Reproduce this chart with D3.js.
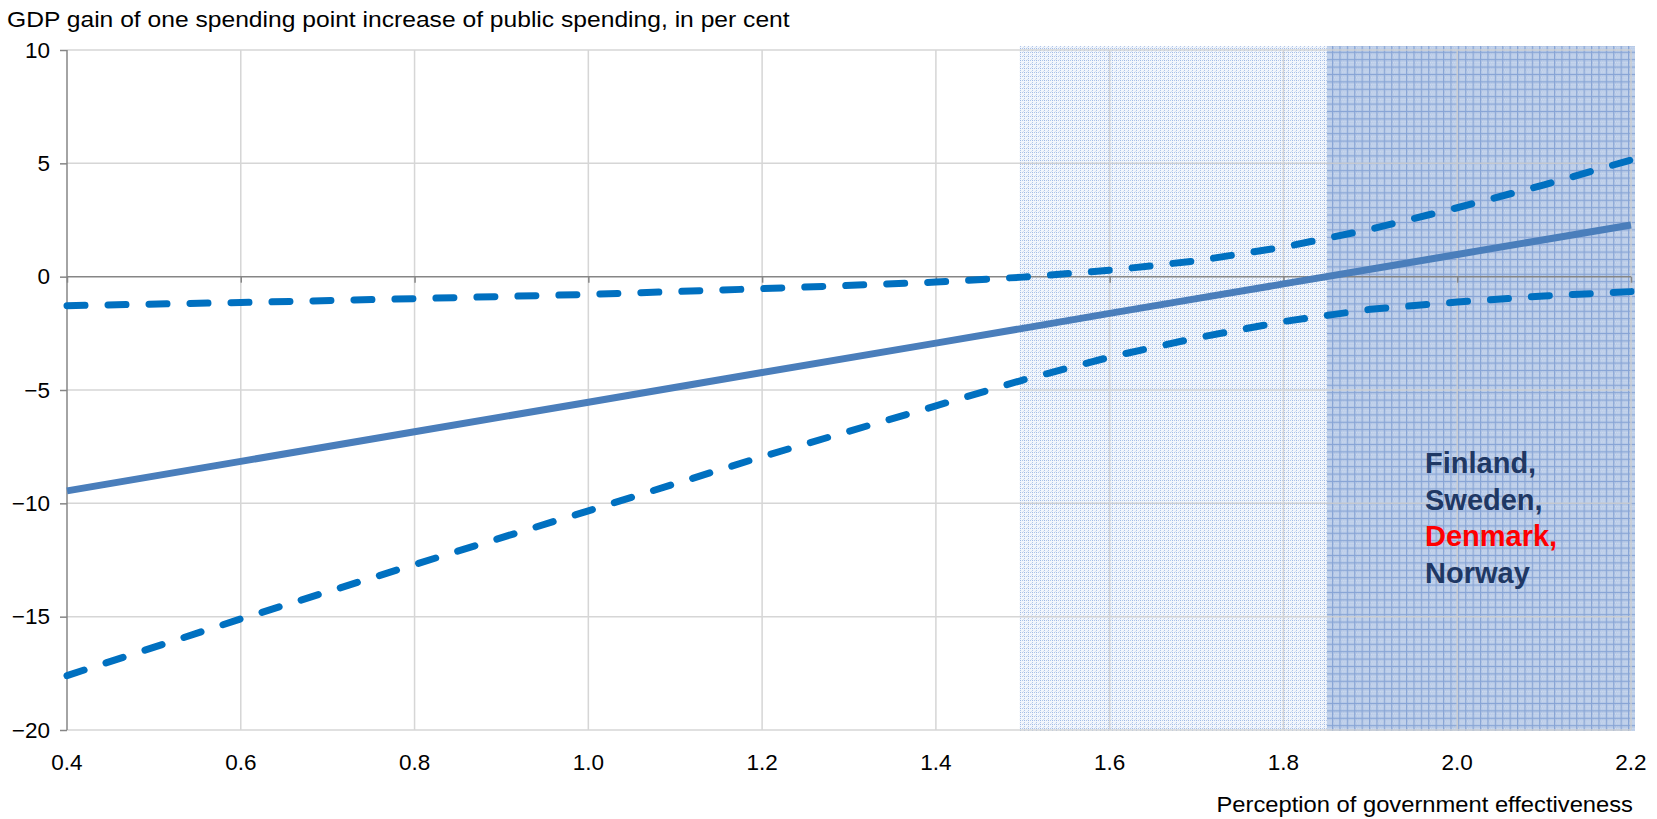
<!DOCTYPE html>
<html>
<head>
<meta charset="utf-8">
<script src="https://cdn.jsdelivr.net/npm/d3@7"></script>
<style>
  html, body { margin: 0; padding: 0; background: #ffffff; }
  svg { display: block; font-family: "Liberation Sans", Arial, sans-serif; }
</style>
</head>
<body>
<svg id="chart" width="1657" height="819"></svg>
<script>
// Government effectiveness (x) and estimated GDP gain (y)
const effectiveness = [0.4, 0.6, 0.8, 1.0, 1.2, 1.4, 1.5, 1.6, 1.7, 1.8, 1.9, 2.0, 2.1, 2.2];
const estimate      = [-9.45, -8.15, -6.84, -5.54, -4.23, -2.93, -2.28, -1.62, -0.97, -0.32, 0.33, 0.98, 1.63, 2.28];
const upperBound    = [-1.28, -1.14, -0.97, -0.78, -0.53, -0.24, -0.02, 0.28, 0.70, 1.30, 2.09, 3.04, 4.05, 5.15];
const lowerBound    = [-17.6, -15.1, -12.7, -10.33, -7.94, -5.7, -4.56, -3.55, -2.7, -1.98, -1.44, -1.12, -0.85, -0.66];

// Shaded effectiveness bands
const bandStart = [1.5, 1.85];
const bandEnd   = [1.85, 2.2];
const bandFill  = ["url(#dotsLight)", "url(#gridDark)"];

const xTicks = [0.4, 0.6, 0.8, 1.0, 1.2, 1.4, 1.6, 1.8, 2.0, 2.2];
const yTicks = [-20, -15, -10, -5, 0, 5, 10];

const countries = ["Finland,", "Sweden,", "Denmark,", "Norway"];
const countryColors = ["#1f3864", "#1f3864", "#ff0000", "#1f3864"];

const yTitle = "GDP gain of one spending point increase of public spending, in per cent";
const xTitle = "Perception of government effectiveness";

const svg = d3.select("#chart");
const x = d3.scaleLinear().domain([0.4, 2.2]).range([67, 1631]);
const y = d3.scaleLinear().domain([-20, 10]).range([730, 50]);

// Fill patterns for the shaded bands
const defs = svg.append("defs");
const pLight = defs.append("pattern").attr("id", "dotsLight")
  .attr("patternUnits", "userSpaceOnUse").attr("width", 4).attr("height", 4);
pLight.append("rect").attr("width", 4).attr("height", 4).attr("fill", "#f2f6fc");
pLight.append("rect").attr("x", 0).attr("y", 0).attr("width", 1).attr("height", 1).attr("fill", "#9db8e4");
pLight.append("rect").attr("x", 2).attr("y", 0).attr("width", 1).attr("height", 1).attr("fill", "#b2c7ea");
pLight.append("rect").attr("x", 0).attr("y", 2).attr("width", 1).attr("height", 1).attr("fill", "#b2c7ea");
pLight.append("rect").attr("x", 3).attr("y", 3).attr("width", 1).attr("height", 1).attr("fill", "#d6e1f3");

const pDark = defs.append("pattern").attr("id", "gridDark")
  .attr("patternUnits", "userSpaceOnUse").attr("width", 7.4).attr("height", 7.4);
pDark.append("rect").attr("width", 7.4).attr("height", 7.4).attr("fill", "#b6c9e7");
for (let i = 0; i < 7; i += 2) {
  for (let j = 1; j < 7; j += 2) {
    pDark.append("rect").attr("x", i + (j % 4 === 1 ? 1 : 0)).attr("y", j)
      .attr("width", 1).attr("height", 1).attr("fill", "#dfe8f5");
  }
}
pDark.append("rect").attr("x", 0).attr("y", 0).attr("width", 7.4).attr("height", 1.2).attr("fill", "#87a4d5");
pDark.append("rect").attr("x", 0).attr("y", 0).attr("width", 1.2).attr("height", 7.4).attr("fill", "#87a4d5");

// Bands
svg.append("g").selectAll("rect").data(bandStart).join("rect")
  .attr("x", (d, i) => x(d) - (i === 0 ? 3 : 0))
  .attr("y", y(10) - 4)
  .attr("width", (d, i) => x(bandEnd[i]) - x(d) + (i === 0 ? 3 : 4))
  .attr("height", y(-20) - y(10) + 5)
  .attr("fill", (d, i) => bandFill[i]);

// Gridlines
const grid = svg.append("g").attr("stroke", "#cfcfcf").attr("stroke-width", 1.5).attr("opacity", 0.85);
grid.selectAll("line.v").data(xTicks.slice(1)).join("line").attr("class", "v")
  .attr("x1", d => x(d)).attr("x2", d => x(d)).attr("y1", y(10)).attr("y2", y(-20));
grid.selectAll("line.h").data(yTicks.filter(d => d !== 0)).join("line").attr("class", "h")
  .attr("x1", x(0.4)).attr("x2", x(2.2)).attr("y1", d => y(d)).attr("y2", d => y(d));

// Y axis
const yAxis = svg.append("g").attr("transform", `translate(${x(0.4)},0)`)
  .call(d3.axisLeft(y).tickValues(yTicks).tickSize(7).tickPadding(10).tickFormat(d3.format("d")));
yAxis.select(".domain").attr("stroke", "#868686").attr("stroke-width", 1.5).attr("d", `M0,${y(10)}V${y(-20)}`);
yAxis.selectAll(".tick line").attr("stroke", "#868686").attr("stroke-width", 1.5);
yAxis.selectAll(".tick text").attr("font-size", 22.5).attr("fill", "#000").attr("font-family", "Liberation Sans, Arial, sans-serif");

// Horizontal axis drawn along zero with downward ticks
const xAxis = svg.append("g").attr("transform", `translate(0,${y(0)})`)
  .call(d3.axisBottom(x).tickValues(xTicks).tickSize(6).tickFormat(""));
xAxis.select(".domain").attr("stroke", "#868686").attr("stroke-width", 1.5).attr("d", `M${x(0.4)},0H${x(2.2)}`);
xAxis.selectAll(".tick line").attr("stroke", "#868686").attr("stroke-width", 1.5);

// X tick labels below the plot
svg.append("g").selectAll("text").data(xTicks).join("text")
  .attr("x", d => x(d)).attr("y", y(-20) + 40)
  .attr("text-anchor", "middle").attr("font-size", 22.5).attr("fill", "#000")
  .text(d => d3.format(".1f")(d));

// Lines
const pts = arr => effectiveness.map((e, i) => [e, arr[i]]);
const line = d3.line().x(d => x(d[0])).y(d => y(d[1]));

svg.append("path").datum(pts(upperBound)).attr("d", line)
  .attr("fill", "none").attr("stroke", "#0070c0").attr("stroke-width", 7)
  .attr("stroke-dasharray", "18,23").attr("stroke-linecap", "round");
svg.append("path").datum(pts(lowerBound)).attr("d", line)
  .attr("fill", "none").attr("stroke", "#0070c0").attr("stroke-width", 7)
  .attr("stroke-dasharray", "18,23").attr("stroke-linecap", "round");
svg.append("path").datum(pts(estimate)).attr("d", line)
  .attr("fill", "none").attr("stroke", "#4a7ebb").attr("stroke-width", 7);

// Country note
svg.append("g").selectAll("text").data(countries).join("text")
  .attr("x", 1425).attr("y", (d, i) => 473 + i * 36.6)
  .attr("font-size", 29).attr("font-weight", "bold")
  .attr("fill", (d, i) => countryColors[i])
  .text(d => d);

// Titles, slightly widened
svg.append("text").attr("transform", "translate(7,27) scale(1.12,1)")
  .attr("font-size", 22).attr("fill", "#000").text(yTitle);
svg.append("text").attr("transform", "translate(1633,812) scale(1.08,1)").attr("text-anchor", "end")
  .attr("font-size", 22).attr("fill", "#000").text(xTitle);
</script>
</body>
</html>
